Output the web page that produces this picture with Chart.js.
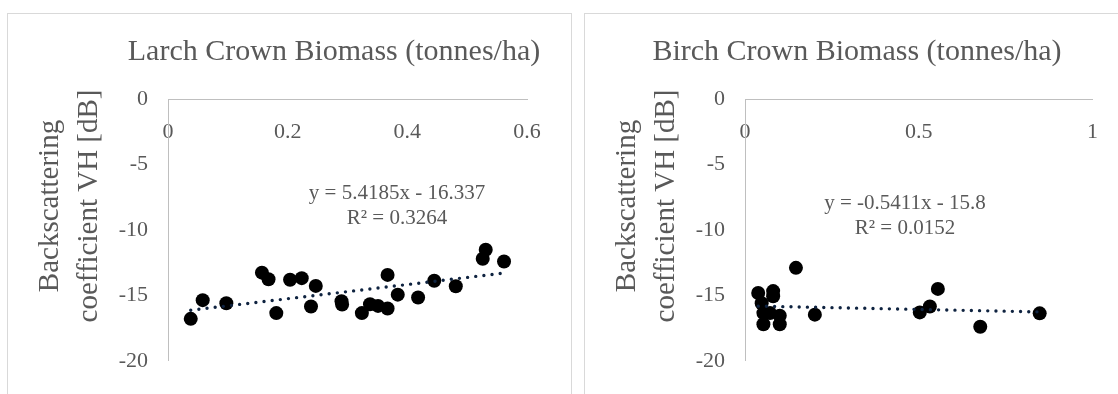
<!DOCTYPE html>
<html><head><meta charset="utf-8">
<script src="https://cdn.jsdelivr.net/npm/chart.js@4"></script>
<style>
html,body{margin:0;padding:0;background:#fff;overflow:hidden;width:1118px;height:394px;}
.box{position:absolute;top:13px;height:400px;border:1px solid #d9d9d9;background:#fff;overflow:hidden;}
#b1{left:7px;width:563px;}
#b2{left:584px;width:600px;}
canvas{position:absolute;left:0;top:0;}
</style></head><body>
<div class="box" id="b1"><canvas id="c1" width="563" height="380"></canvas></div>
<div class="box" id="b2"><canvas id="c2" width="533" height="380"></canvas></div>
<script>
// ---- data ----
const larchX = [0.038, 0.058, 0.0975, 0.157, 0.168, 0.181, 0.204, 0.2235, 0.239, 0.247, 0.290, 0.291, 0.324, 0.3376, 0.351, 0.367, 0.367, 0.384, 0.418, 0.445, 0.481, 0.526, 0.531, 0.5616];
const larchY = [-16.79, -15.36, -15.6, -13.26, -13.76, -16.35, -13.8, -13.68, -15.85, -14.27, -15.45, -15.7, -16.35, -15.68, -15.8, -16.0, -13.43, -14.94, -15.16, -13.88, -14.3, -12.2, -11.51, -12.4];
const birchX = [0.038, 0.048, 0.053, 0.053, 0.072, 0.081, 0.081, 0.1, 0.1, 0.1466, 0.201, 0.503, 0.532, 0.555, 0.677, 0.848];
const birchY = [-14.82, -15.6, -16.35, -17.2, -16.35, -14.67, -15.06, -16.55, -17.2, -12.89, -16.47, -16.3, -15.85, -14.5, -17.4, -16.37];
const larchTrendX = [0.038, 0.5616];
const larchTrendY = [-16.13, -13.29];
const birchTrendX = [0.038, 0.848];
const birchTrendY = [-15.82, -16.26];
const larchXTicks = [0, 0.2, 0.4, 0.6];
const birchXTicks = [0, 0.5, 1];
const yTicks = [-20, -15, -10, -5, 0];
const titles = ["Larch Crown Biomass (tonnes/ha)", "Birch Crown Biomass (tonnes/ha)"];
const yAxisTitleLines = ["Backscattering", "coefficient VH [dB]"];
const larchEq = ["y = 5.4185x - 16.337", "R\u00B2 = 0.3264"];
const birchEq = ["y = -0.5411x - 15.8", "R\u00B2 = 0.0152"];

const FONT = "'Liberation Serif', 'Times New Roman', serif";
const GREY = '#595959';

const annot = {
  id: 'annot',
  afterDraw(chart, args, o) {
    const ctx = chart.ctx, ca = chart.chartArea;
    ctx.save();
    ctx.fillStyle = GREY;
    ctx.textBaseline = 'middle';
    ctx.textAlign = 'center';
    ctx.font = '30px ' + FONT;
    ctx.fillText(o.title, o.titleX, o.titleY);
    ctx.font = '29px ' + FONT;
    o.axisLines.forEach((t, i) => {
      ctx.save();
      ctx.translate(o.axisX[i], o.axisMid);
      ctx.rotate(-Math.PI / 2);
      ctx.textAlign = 'center';
      ctx.fillText(t, 0, 0);
      ctx.restore();
    });
    ctx.font = '21px ' + FONT;
    ctx.textAlign = 'center';
    o.eq.forEach((t, i) => ctx.fillText(t, ca.left + o.eqDx, ca.top + o.eqDy + i * 25));
    ctx.restore();
  }
};

function pts(xs, ys) { return xs.map((x, i) => ({x: x, y: ys[i]})); }
function fmt(v) { return String(+(+v).toFixed(3)); }

function build(id, p) {
  return new Chart(document.getElementById(id), {
    type: 'scatter',
    data: {
      datasets: [
        {
          type: 'line', data: pts(p.tx, p.ty), order: 0,
          borderColor: '#0f2340', borderWidth: 3.4, borderDash: [0, 8.2], borderCapStyle: 'round',
          pointRadius: 0, fill: false, tension: 0
        },
        {
          data: pts(p.xs, p.ys), order: 1,
          backgroundColor: '#000', borderColor: '#000', borderWidth: 0, pointRadius: 7, pointHoverRadius: 7
        }
      ]
    },
    options: {
      responsive: false, animation: false, events: [],
      layout: {padding: {left: 160 - p.yW, right: p.padR, top: 85.3, bottom: 25}},
      plugins: {
        legend: {display: false}, tooltip: {enabled: false}, title: {display: false},
        annot: {title: p.title, titleX: p.titleX, titleY: 38.5, axisLines: yAxisTitleLines, axisX: [42, 81], axisMid: 192, eq: p.eq, eqDx: p.eqDx, eqDy: p.eqDy}
      },
      scales: {
        x: {
          type: 'linear', position: {y: 0}, min: 0, max: p.xMax,
          afterBuildTicks: s => { s.ticks = p.xTicks.map(v => ({value: v})); },
          grid: {display: true, color: 'rgba(0,0,0,0)', drawTicks: false},
          border: {display: true, color: '#bfbfbf', width: 1},
          ticks: {color: GREY, font: {family: FONT, size: 22}, padding: 20, autoSkip: false, maxRotation: 0, callback: fmt}
        },
        y: {
          type: 'linear', position: 'left', min: -20, max: 0,
          afterBuildTicks: s => { s.ticks = yTicks.map(v => ({value: v})); },
          afterFit: s => { s.width = p.yW; },
          grid: {display: true, color: 'rgba(0,0,0,0)', drawTicks: false},
          border: {display: true, color: '#bfbfbf', width: 1},
          ticks: {color: GREY, font: {family: FONT, size: 22}, padding: 20, callback: fmt}
        }
      }
    },
    plugins: [annot]
  });
}

build('c1', {xs: larchX, ys: larchY, tx: larchTrendX, ty: larchTrendY, xMax: 0.6, xTicks: larchXTicks,
  title: titles[0], titleX: 326, padR: 44, yW: 60, eq: larchEq, eqDx: 229, eqDy: 94});
build('c2', {xs: birchX, ys: birchY, tx: birchTrendX, ty: birchTrendY, xMax: 1, xTicks: birchXTicks,
  title: titles[1], titleX: 272, padR: 25, yW: 60, eq: birchEq, eqDx: 160, eqDy: 104});
</script>
</body></html>
